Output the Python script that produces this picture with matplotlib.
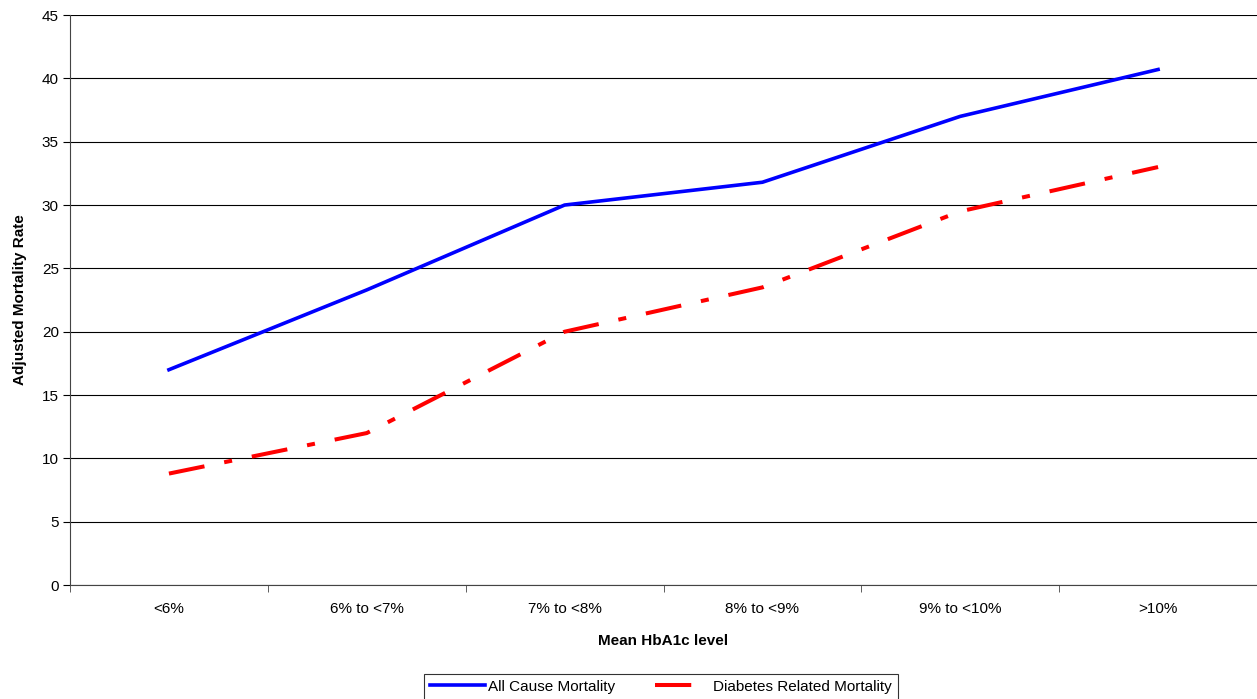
import numpy as np
import matplotlib
matplotlib.use("Agg")
import matplotlib.pyplot as plt

plt.rcParams['font.family'] = ['Liberation Sans', 'DejaVu Sans']

# data
categories = ["<6%", "6% to <7%", "7% to <8%", "8% to <9%", "9% to <10%", ">10%"]
all_cause = [17.0, 23.3, 30.0, 31.8, 37.0, 40.7]
diabetes_related = [8.8, 12.0, 20.0, 23.5, 29.5, 33.0]

fig = plt.figure(figsize=(12.57, 6.99), dpi=100)
ax = fig.add_axes([0.0557, 0.163, 0.9443, 0.8155])

x = np.arange(len(categories)) + 0.5
ax.plot(x, all_cause, color="#0000ff", lw=2.6, label="All Cause Mortality")
ax.plot(x, diabetes_related, color="#ff0000", lw=2.9, dashes=(9, 5, 2, 5),
        label="Diabetes Related Mortality")

ax.set_xlim(0, len(categories))
ax.set_ylim(0, 45)
ax.set_yticks(np.arange(0, 46, 5))
ax.yaxis.grid(True, color="black", lw=0.8)
ax.set_axisbelow(True)

# category labels centred, tick marks at the boundaries
ax.set_xticks(x)
ax.set_xticklabels(categories, fontsize=11)
ax.set_xticks(np.arange(0, len(categories) + 1), minor=True)
ax.tick_params(axis="x", which="major", length=0, pad=12)
ax.tick_params(axis="x", which="minor", length=5, direction="out", color="#444444")
ax.tick_params(axis="y", length=5, direction="out", labelsize=11, pad=3)

for s in ["top", "right"]:
    ax.spines[s].set_visible(False)
ax.spines["left"].set_color("#444444")
ax.spines["bottom"].set_color("#444444")

ax.set_xlabel("Mean HbA1c level", fontsize=11, fontweight="bold", labelpad=13)
ax.set_ylabel("Adjusted Mortality Rate", fontsize=11, fontweight="bold", labelpad=11)

leg = fig.legend(loc="lower center", bbox_to_anchor=(0.526, -0.012), ncol=2, fontsize=11,
                 frameon=True, fancybox=False, edgecolor="black", handlelength=3.6,
                 borderpad=0.4, columnspacing=2.6, handletextpad=0.2)
leg.get_frame().set_linewidth(0.8)

fig.savefig("out.png", dpi=100)
